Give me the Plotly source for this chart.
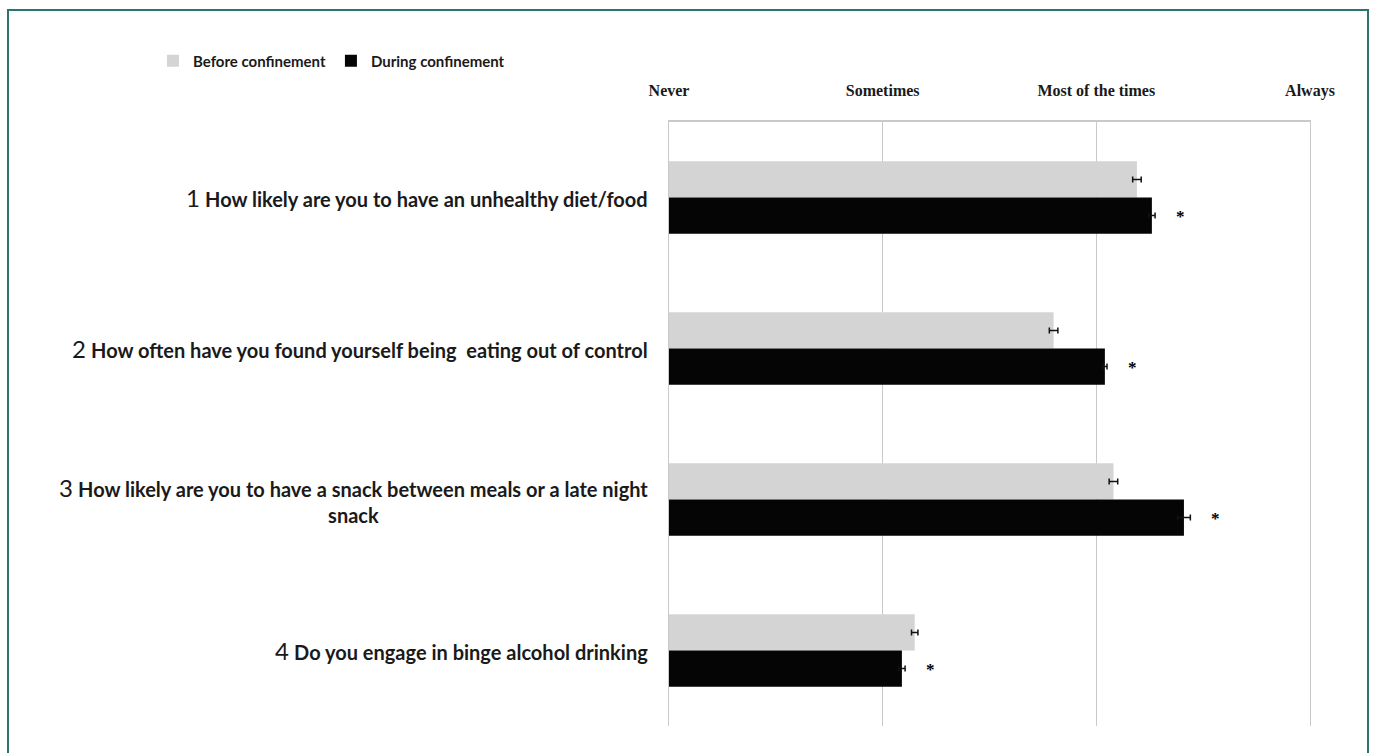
import plotly.graph_objects as go

# ---- data ----
question_numbers = ["1", "2", "3", "4"]
questions = [
    "How likely are you to have an unhealthy diet/food",
    "How often have you found yourself being  eating out of control",
    "How likely are you to have a snack between meals or a late night<br>snack",
    "Do you engage in binge alcohol drinking",
]
before_values = [3.19, 2.80, 3.08, 2.15]
before_errors = [0.02, 0.02, 0.02, 0.015]
during_values = [3.26, 3.04, 3.41, 2.09]
during_errors = [0.015, 0.01, 0.03, 0.015]
significant = ["*", "*", "*", "*"]
x_tick_values = [1, 2, 3, 4]
x_tick_labels = ["Never", "Sometimes", "Most of the times", "Always"]
series_names = ["Before confinement", "During confinement"]

cats = [f"Q{n}" for n in question_numbers]

W, H = 1375, 753
L, R, T, B = 669, 65, 122, 27
pw = W - L - R
ph = H - T - B

def px_to_paper_x(px):
    return (px - L) / pw

def px_to_paper_y(py):
    return (H - B - py) / ph

fig = go.Figure()
fig.add_trace(go.Bar(
    y=cats, x=before_values, orientation="h", name=f"<b>{series_names[0]}</b>",
    marker=dict(color="#d4d4d4", line=dict(width=0)),
    error_x=dict(type="data", array=before_errors, color="#111111", thickness=1.5, width=3),
))
fig.add_trace(go.Bar(
    y=cats, x=during_values, orientation="h", name=f"<b>{series_names[1]}</b>",
    marker=dict(color="#050505", line=dict(width=0)),
    error_x=dict(type="data", array=during_errors, color="#111111", thickness=1.5, width=3),
))

annotations = []
for n, q, c in zip(question_numbers, questions, cats):
    annotations.append(dict(
        x=px_to_paper_x(650), xref="paper", y=c, yref="y",
        xanchor="right", yanchor="middle", align="center",
        text=f"<span style='font-size:24px'>{n}</span> <b>{q}</b>",
        showarrow=False,
        font=dict(family="Lato", size=20, color="#1a1a1a"),
    ))

# significance asterisks next to the "during" bars
for s, v, e, c in zip(significant, during_values, during_errors, cats):
    annotations.append(dict(
        x=v + e + 0.12, xref="x", y=c, yref="y", yshift=-19,
        xanchor="center", yanchor="middle", text=f"<b>{s}</b>", showarrow=False,
        font=dict(family="Liberation Serif", size=17, color="#000000"),
    ))

frame = dict(
    type="rect", xref="paper", yref="paper",
    x0=px_to_paper_x(8), x1=px_to_paper_x(1368),
    y0=px_to_paper_y(800), y1=px_to_paper_y(10),
    line=dict(color="#2d7370", width=2), fillcolor="rgba(0,0,0,0)", layer="below",
)

fig.update_layout(
    width=W, height=H,
    margin=dict(l=L, r=R, t=T, b=B, pad=0),
    paper_bgcolor="white", plot_bgcolor="white",
    barmode="group", bargap=0.52, bargroupgap=0.0,
    showlegend=True,
    legend=dict(
        orientation="h", x=px_to_paper_x(153), y=px_to_paper_y(61),
        xanchor="left", yanchor="middle",
        font=dict(family="Lato", size=15, color="#1a1a1a"),
        itemwidth=30, traceorder="normal", tracegroupgap=0,
        bgcolor="rgba(0,0,0,0)",
    ),
    xaxis=dict(
        range=[1, 4], side="top",
        tickmode="array", tickvals=x_tick_values,
        ticktext=[f"<b>{t}</b>" for t in x_tick_labels],
        tickfont=dict(family="Liberation Serif", size=16, color="#1a1a1a"),
        ticks="", ticklabelstandoff=18,
        showgrid=True, gridcolor="#c9c9c9", gridwidth=1,
        showline=True, linecolor="#c9c9c9", linewidth=2, mirror=False,
        zeroline=False, fixedrange=True,
    ),
    yaxis=dict(
        categoryorder="array", categoryarray=cats, autorange="reversed",
        showticklabels=False, ticks="", showgrid=False, zeroline=False,
        showline=True, linecolor="#c9c9c9", linewidth=1, mirror=True,
        fixedrange=True,
    ),
    annotations=annotations,
    shapes=[frame],
)

fig.write_html(
    "out.html",
    config={"displayModeBar": False},
    post_script="document.body.style.margin='0';",
)
